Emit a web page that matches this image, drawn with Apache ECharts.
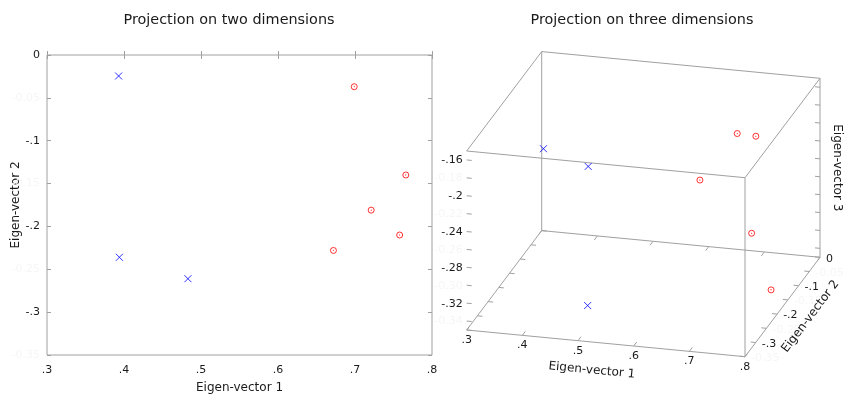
<!DOCTYPE html>
<html>
<head>
<meta charset="utf-8">
<script src="https://cdn.jsdelivr.net/npm/echarts@6/dist/echarts.min.js"></script>
<style>
html,body{margin:0;padding:0;background:#fff}
#main{width:844px;height:394px}
</style>
</head>
<body>
<div id="main"></div>
<script>
// eigen-vector components, group 1 (blue crosses) and group 2 (red circles)
var blueEv1 = [0.393, 0.394, 0.483];
var blueEv2 = [-0.0245, -0.236, -0.261];
var blueEv3 = [-0.265, -0.178, -0.340];
var redEv1 = [0.699, 0.766, 0.721, 0.758, 0.672];
var redEv2 = [-0.037, -0.140, -0.181, -0.210, -0.228];
var redEv3 = [-0.209, -0.344, -0.159, -0.259, -0.199];

// axis ranges and ticks
var ev1Range = [0.3, 0.8];
var ev2Range = [-0.35, 0];
var ev3Range = [-0.35, -0.15];
var ev1Ticks = [0.3, 0.4, 0.5, 0.6, 0.7, 0.8];
var ev2Ticks = [0, -0.05, -0.1, -0.15, -0.2, -0.25, -0.3, -0.35];
var ev3Ticks = [-0.34, -0.32, -0.3, -0.28, -0.26, -0.24, -0.22, -0.2, -0.18, -0.16];

var FONT = '"DejaVu Sans", sans-serif';
var GRAY = '#a0a0a0';
var FAINT = '#f6f6f6';
var TXT = '#1a1a1a';
var TICK_SIZE = 11;

function fmtTick(v) {
    if (Math.abs(v) < 1e-9) return '0';
    return String(parseFloat(v.toFixed(2))).replace('0.', '.');
}
function isTenth(v) { return Math.abs(Math.round(v * 10) - v * 10) < 1e-6; }
function isMajorEv3(v) { return Math.abs(Math.round(v * 25) - v * 25) < 1e-6; }

var crossSym = 'path://M0,0L10,10M10,0L0,10';
var ringSym = 'path://M0,5a5,5 0 1,0 10,0a5,5 0 1,0 -10,0M4.6,5a0.4,0.4 0 1,0 0.8,0a0.4,0.4 0 1,0 -0.8,0';

// ---- 3D box view (orthographic), screen frame of the hidden grid ----
var view = {
    origin: [466.7, 330],        // front-bottom-left corner
    ex: [278.3, 26.7],            // full ev1 span
    ey: [75, -99.4],              // full ev2 span
    ez: [0, -179]                 // full ev3 span
};
function proj(x, y, z) {
    var nx = (x - ev1Range[0]) / (ev1Range[1] - ev1Range[0]);
    var ny = (y - ev2Range[0]) / (ev2Range[1] - ev2Range[0]);
    var nz = (z - ev3Range[0]) / (ev3Range[1] - ev3Range[0]);
    return [
        view.origin[0] + nx * view.ex[0] + ny * view.ey[0] + nz * view.ez[0],
        view.origin[1] + nx * view.ex[1] + ny * view.ey[1] + nz * view.ez[1]
    ];
}

var X0 = ev1Range[0], X1 = ev1Range[1], Y0 = ev2Range[0], Y1 = ev2Range[1], Z0 = ev3Range[0], Z1 = ev3Range[1];
var segs = [];
function seg(a, b) { segs.push(proj(a[0], a[1], a[2]).concat(proj(b[0], b[1], b[2]))); }
// box edges (front-left vertical is not drawn)
seg([X0,Y0,Z0],[X1,Y0,Z0]); seg([X1,Y0,Z0],[X1,Y1,Z0]); seg([X1,Y1,Z0],[X0,Y1,Z0]); seg([X0,Y1,Z0],[X0,Y0,Z0]);
seg([X1,Y0,Z0],[X1,Y0,Z1]); seg([X1,Y1,Z0],[X1,Y1,Z1]); seg([X0,Y1,Z0],[X0,Y1,Z1]);
seg([X0,Y0,Z1],[X1,Y0,Z1]); seg([X1,Y0,Z1],[X1,Y1,Z1]); seg([X1,Y1,Z1],[X0,Y1,Z1]); seg([X0,Y1,Z1],[X0,Y0,Z1]);
// ticks
var dY = 0.014, dX = 0.009;
ev1Ticks.forEach(function (v) {
    seg([v,Y0,Z0],[v,Y0+dY,Z0]);
    seg([v,Y1,Z0],[v,Y1-dY,Z0]);
});
ev2Ticks.forEach(function (v) {
    seg([X1,v,Z0],[X1-dX,v,Z0]);
    seg([X0,v,Z0],[X0+dX,v,Z0]);
});
ev3Ticks.forEach(function (v) {
    seg([X0,Y0,v],[X0+dX,Y0,v]);
    seg([X1,Y1,v],[X1-dX,Y1,v]);
});

var labelPts = [], labelSpecs = [];
function lab(p, spec) { labelPts.push(p); labelSpecs.push(spec); }
ev1Ticks.forEach(function (v) {
    lab(proj(v, Y0, Z0), {text: fmtTick(v), dx: 0, dy: 10, align: 'center', va: 'middle', color: TXT, size: TICK_SIZE});
});
ev2Ticks.forEach(function (v) {
    var major = isTenth(v);
    lab(proj(X1, v, Z0), {text: major ? fmtTick(v) : v.toFixed(2), dx: 6, dy: 1.5, align: 'left', va: 'middle', color: major ? TXT : FAINT, size: TICK_SIZE});
});
ev3Ticks.forEach(function (v) {
    var major = isMajorEv3(v);
    lab(proj(X0, Y0, v), {text: major ? fmtTick(v) : v.toFixed(2), dx: -4, dy: 0.5, align: 'right', va: 'middle', color: major ? TXT : FAINT, size: TICK_SIZE});
});
// axis names
lab(proj((X0+X1)/2, Y0, Z0), {text: 'Eigen-vector 1', dx: -14, dy: 27, align: 'center', va: 'middle', color: TXT, size: 12, rot: -Math.atan2(view.ex[1], view.ex[0])});
lab(proj(X1, (Y0+Y1)/2, Z0), {text: 'Eigen-vector 2', dx: 28, dy: 9.5, align: 'center', va: 'middle', color: TXT, size: 12, rot: Math.atan2(-view.ey[1], view.ey[0])});
lab(proj(X1, Y1, (Z0+Z1)/2), {text: 'Eigen-vector 3', dx: 17, dy: 0, align: 'center', va: 'middle', color: TXT, size: 12, rot: -Math.PI/2});

function zip2(a, b) { return a.map(function (v, i) { return [v, b[i]]; }); }
function proj3(a, b, c) { return a.map(function (v, i) { return proj(v, b[i], c[i]); }); }

var chart = echarts.init(document.getElementById('main'));
var option = {
    animation: false,
    backgroundColor: '#fff',
    title: [
        {text: 'Projection on two dimensions', left: 224, top: 8, textAlign: 'center',
         textStyle: {fontFamily: FONT, fontSize: 14.4, fontWeight: 'normal', color: TXT}},
        {text: 'Projection on three dimensions', left: 637, top: 8, textAlign: 'center',
         textStyle: {fontFamily: FONT, fontSize: 14.4, fontWeight: 'normal', color: TXT}}
    ],
    grid: [
        {left: 47, right: 412, top: 55, bottom: 39, show: true, borderColor: GRAY, borderWidth: 1,
         outerBoundsMode: 'none', containLabel: false},
        {left: 0, top: 0, width: 844, height: 394, outerBoundsMode: 'none'}
    ],
    xAxis: [
        {gridIndex: 0, type: 'value', min: ev1Range[0], max: ev1Range[1], interval: 0.1, position: 'bottom',
         axisLine: {show: false}, splitLine: {show: false},
         axisTick: {inside: true, length: 4, lineStyle: {color: GRAY}},
         axisLabel: {formatter: fmtTick, color: TXT, fontSize: TICK_SIZE, fontFamily: FONT, margin: 10, showMinLabel: true, showMaxLabel: true},
         name: 'Eigen-vector 1', nameLocation: 'middle', nameGap: 27, nameMoveOverlap: false,
         nameTextStyle: {fontFamily: FONT, fontSize: 12, color: TXT}},
        {gridIndex: 0, type: 'value', min: ev1Range[0], max: ev1Range[1], interval: 0.1, position: 'top',
         axisLine: {show: false}, splitLine: {show: false}, axisLabel: {show: false},
         axisTick: {inside: true, length: 4, lineStyle: {color: GRAY}}},
        {gridIndex: 1, type: 'value', min: 0, max: 844, show: false}
    ],
    yAxis: [
        {gridIndex: 0, type: 'value', min: ev2Range[0], max: ev2Range[1], interval: 0.05, position: 'left',
         axisLine: {show: false}, splitLine: {show: false},
         axisTick: {inside: true, length: 4, lineStyle: {color: GRAY}},
         axisLabel: {
             formatter: function (v) { return isTenth(v) ? fmtTick(v) : '{f|' + v.toFixed(2) + '}'; },
             rich: {f: {color: FAINT, fontSize: TICK_SIZE, fontFamily: FONT}},
             color: TXT, fontSize: TICK_SIZE, fontFamily: FONT, margin: 7, showMinLabel: true, showMaxLabel: true},
         name: 'Eigen-vector 2', nameLocation: 'middle', nameGap: 25, nameMoveOverlap: false,
         nameTextStyle: {fontFamily: FONT, fontSize: 12, color: TXT}},
        {gridIndex: 0, type: 'value', min: ev2Range[0], max: ev2Range[1], interval: 0.05, position: 'right',
         axisLine: {show: false}, splitLine: {show: false}, axisLabel: {show: false},
         axisTick: {inside: true, length: 4, lineStyle: {color: GRAY}}},
        {gridIndex: 1, type: 'value', min: 0, max: 394, inverse: true, show: false}
    ],
    series: [
        {type: 'scatter', xAxisIndex: 0, yAxisIndex: 0, data: zip2(blueEv1, blueEv2),
         symbol: crossSym, symbolSize: 7, itemStyle: {color: 'rgba(0,0,0,0)', borderColor: '#0000ff', borderWidth: 1}},
        {type: 'scatter', xAxisIndex: 0, yAxisIndex: 0, data: zip2(redEv1, redEv2),
         symbol: ringSym, symbolSize: 6, itemStyle: {color: 'rgba(0,0,0,0)', borderColor: '#ff0000', borderWidth: 1}},
        {type: 'custom', xAxisIndex: 2, yAxisIndex: 2, silent: true, data: segs,
         encode: {x: [0, 2], y: [1, 3]},
         renderItem: function (params, api) {
             var a = api.coord([api.value(0), api.value(1)]);
             var b = api.coord([api.value(2), api.value(3)]);
             return {type: 'line', shape: {x1: a[0], y1: a[1], x2: b[0], y2: b[1]},
                     style: {stroke: GRAY, lineWidth: 1}};
         }},
        {type: 'custom', xAxisIndex: 2, yAxisIndex: 2, silent: true, data: labelPts,
         encode: {x: 0, y: 1},
         renderItem: function (params, api) {
             var s = labelSpecs[params.dataIndex];
             var p = api.coord([api.value(0), api.value(1)]);
             return {type: 'text', x: p[0] + s.dx, y: p[1] + s.dy, rotation: s.rot || 0,
                     style: {text: s.text, align: s.align, verticalAlign: s.va, fill: s.color,
                             font: s.size + 'px ' + FONT}};
         }},
        {type: 'scatter', xAxisIndex: 2, yAxisIndex: 2, data: proj3(blueEv1, blueEv2, blueEv3),
         symbol: crossSym, symbolSize: 7, itemStyle: {color: 'rgba(0,0,0,0)', borderColor: '#0000ff', borderWidth: 1}},
        {type: 'scatter', xAxisIndex: 2, yAxisIndex: 2, data: proj3(redEv1, redEv2, redEv3),
         symbol: ringSym, symbolSize: 6, itemStyle: {color: 'rgba(0,0,0,0)', borderColor: '#ff0000', borderWidth: 1}}
    ]
};
chart.setOption(option);
</script>
</body>
</html>
